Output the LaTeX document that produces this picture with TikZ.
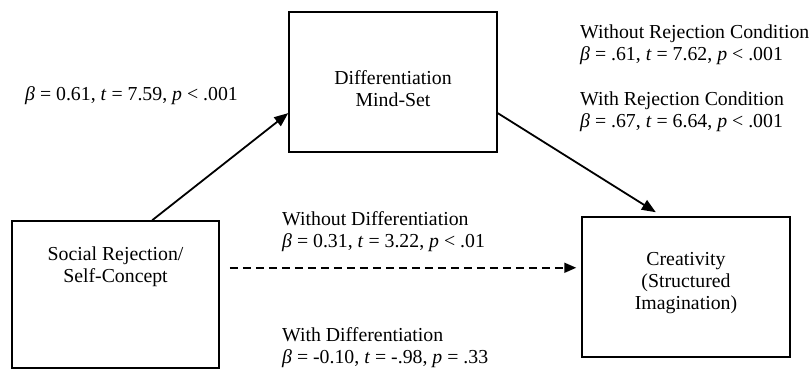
\documentclass[tikz,border=0pt]{standalone}
\usepackage{fontspec}
\setmainfont{Liberation Serif}
\usetikzlibrary{arrows.meta,calc}
\newcommand\dfont{\fontsize{19.8}{22}\selectfont}
\begin{document}
\begin{tikzpicture}[x=1pt,y=-1pt,
  box/.style={draw,line width=1.5pt,inner sep=0pt,minimum width=#1},
  lbl/.style={anchor=base west,inner sep=0pt,font=\dfont},
  intext/.style={inner sep=0pt,align=center,font=\dfont},
  conn/.style={line width=1.8pt,-{Triangle[length=14pt,width=11pt]}},
  dconn/.style={line width=1.8pt,dash pattern=on 8pt off 5pt,-{Triangle[length=12pt,width=10pt]}}]
\useasboundingbox (0,0) rectangle (812,369);
% boxes
\node[box=208pt,minimum height=140pt] (diff) at (393,82) {};
\node[box=207pt,minimum height=147pt] (soc) at (115.5,294.5) {};
\node[box=208pt,minimum height=140pt] (cre) at (686,287) {};
% box texts
\node[intext] (difft) at (393,89) {Differentiation\\Mind-Set};
\node[intext] (soct) at (115.5,267) {Social Rejection/\\Self-Concept};
\node[intext] (cret) at (686,283) {Creativity\\(Structured\\Imagination)};
% connectors
\coordinate (a1) at ($(soc.north west)!0.676!(soc.north east)$);
\coordinate (a2) at ($(diff.north west)!0.72!(diff.south west)$);
\draw[conn] (a1) -- (a2);
\coordinate (b1) at ($(diff.north east)!0.72!(diff.south east)$);
\coordinate (b2) at ($($(cre.north west)!0.356!(cre.north east)$)+(0,-4)$);
\draw[conn] (b1) -- (b2);
\coordinate (c1) at ($($(soc.north east)!0.32!(soc.south east)$)+(10,0)$);
\coordinate (c2) at ($(c1 -| cre.west)+(-5,0)$);
\draw[dconn] (c1) -- (c2);
% labels
\node[lbl] (l1) at (25,101) {\textit{β} = 0.61, \textit{t} = 7.59, \textit{p} < .001};
\node[lbl] (l2) at (580,39) {Without Rejection Condition};
\node[lbl] (l3) at (580,61) {\textit{β} = .61, \textit{t} = 7.62, \textit{p} < .001};
\node[lbl] (l4) at (580,106) {With Rejection Condition};
\node[lbl] (l5) at (580,128) {\textit{β} = .67, \textit{t} = 6.64, \textit{p} < .001};
\node[lbl] (l6) at (282,225) {Without Differentiation};
\node[lbl] (l7) at (282,247) {\textit{β} = 0.31, \textit{t} = 3.22, \textit{p} < .01};
\node[lbl] (l8) at (282,341) {With Differentiation};
\node[lbl] (l9) at (282,363) {\textit{β} = -0.10, \textit{t} = -.98, \textit{p} = .33};
\end{tikzpicture}
\end{document}
